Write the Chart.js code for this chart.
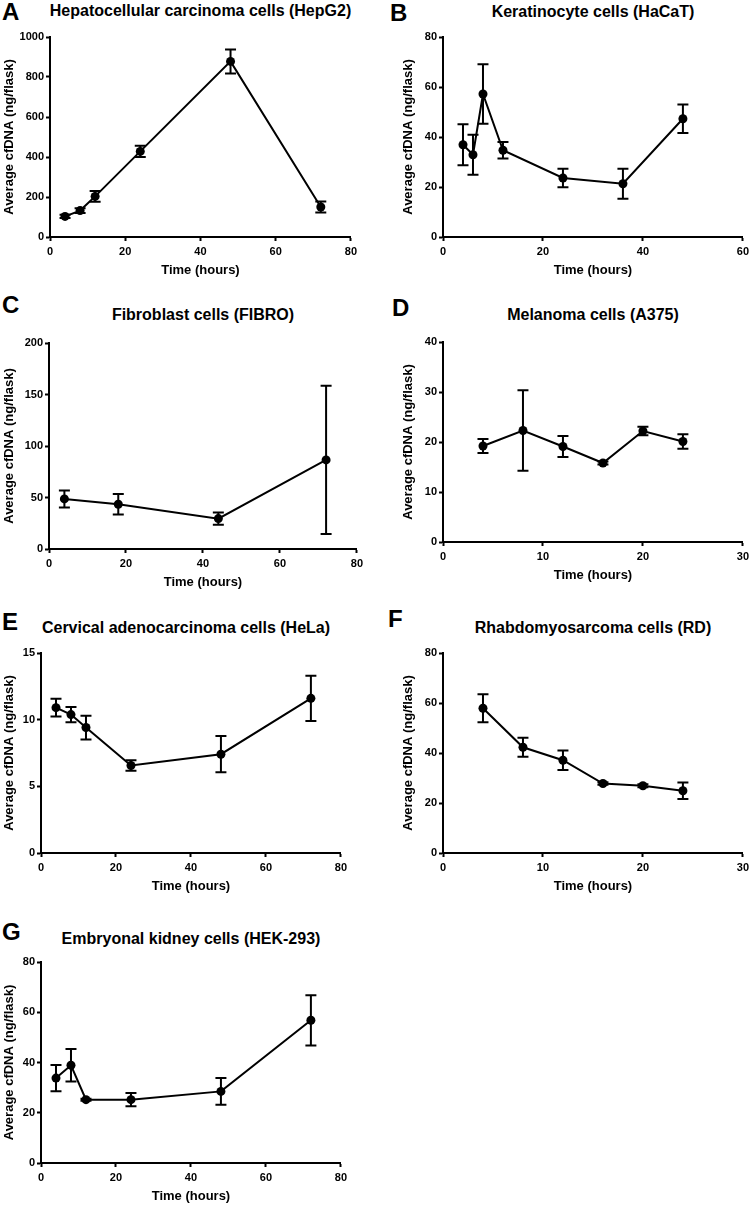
<!DOCTYPE html>
<html lang="en">
<head>
<meta charset="UTF-8">
<title>Average cfDNA over time</title>
<script src="https://cdn.jsdelivr.net/npm/chart.js@4.4.1/dist/chart.umd.min.js"></script>
<style>
    html, body { margin: 0; padding: 0; background: #fff; overflow: hidden; }
    #page {
        position: relative;
        width: 750px;
        height: 1208px;
        overflow: hidden;
        font-family: "Liberation Sans", Arial, sans-serif;
        color: #000;
    }
    .letter { position: absolute; font-weight: bold; font-size: 24px; line-height: 24px; }
    .title { position: absolute; font-weight: bold; font-size: 16px; line-height: 18px; text-align: center; white-space: nowrap; }
    canvas { position: absolute; }
</style>
</head>
<body>
<div id="page"></div>

<script>
// ---- data ----
const hepg2Hours = [4, 8, 12, 24, 48, 72];
const hepg2Mean  = [103, 132, 203, 428, 878, 150];
const hepg2Err   = [8, 12, 27, 28, 60, 28];

const hacatHours = [4, 6, 8, 12, 24, 36, 48];
const hacatMean  = [36.9, 32.9, 57.2, 34.7, 23.6, 21.3, 47.3];
const hacatErr   = [8.2, 8, 11.9, 3.3, 3.7, 6, 5.7];

const fibroHours = [4, 18, 44, 72];
const fibroMean  = [48.6, 43.4, 29.5, 86.5];
const fibroErr   = [8.3, 10, 6, 72];

const a375Hours = [4, 8, 12, 16, 20, 24];
const a375Mean  = [19.2, 22.3, 19.1, 15.8, 22.2, 20.1];
const a375Err   = [1.4, 8.05, 2.1, 0.3, 0.85, 1.45];

const helaHours = [4, 8, 12, 24, 48, 72];
const helaMean  = [10.9, 10.38, 9.41, 6.56, 7.41, 11.6];
const helaErr   = [0.66, 0.57, 0.89, 0.39, 1.36, 1.7];

const rdHours = [4, 8, 12, 16, 20, 24];
const rdMean  = [57.9, 42.3, 37.1, 27.8, 26.9, 24.9];
const rdErr   = [5.6, 3.8, 3.9, 0.5, 0.6, 3.3];

const hekHours = [4, 8, 12, 24, 48, 72];
const hekMean  = [33.8, 38.9, 25.2, 25.2, 28.5, 56.8];
const hekErr   = [5.2, 6.5, 0.4, 2.65, 5.3, 10];

const panelLetters = ['A', 'B', 'C', 'D', 'E', 'F', 'G'];
const panelTitles = [
    'Hepatocellular carcinoma cells (HepG2)',
    'Keratinocyte cells (HaCaT)',
    'Fibroblast cells (FIBRO)',
    'Melanoma cells (A375)',
    'Cervical adenocarcinoma cells (HeLa)',
    'Rhabdomyosarcoma cells (RD)',
    'Embryonal kidney cells (HEK-293)'
];
// axis ranges: [xMax, xStep, yMax, yStep]
const axisRanges = [
    [80, 20, 1000, 200],
    [60, 20, 80, 20],
    [80, 20, 200, 50],
    [30, 10, 40, 10],
    [80, 20, 15, 5],
    [30, 10, 80, 20],
    [80, 20, 80, 20]
];
const xTitle = 'Time (hours)';
const yTitle = 'Average cfDNA (ng/flask)';

const series = [
    [hepg2Hours, hepg2Mean, hepg2Err],
    [hacatHours, hacatMean, hacatErr],
    [fibroHours, fibroMean, fibroErr],
    [a375Hours, a375Mean, a375Err],
    [helaHours, helaMean, helaErr],
    [rdHours, rdMean, rdErr],
    [hekHours, hekMean, hekErr]
];

// ---- layout of each panel (plot area in page pixels) ----
const layout = [
    { L: 50,  T: 37,  R: 351, B: 237,  yw: 50, letter: [2, 0],    titleTop: 2,   titleDx: 0 },
    { L: 443, T: 37,  R: 743, B: 237,  yw: 44, letter: [390, 1],  titleTop: 3,   titleDx: 0 },
    { L: 49,  T: 343, R: 357, B: 549,  yw: 49, letter: [2, 293],  titleTop: 306, titleDx: 0 },
    { L: 443, T: 342, R: 743, B: 542,  yw: 44, letter: [392, 296],titleTop: 306, titleDx: 0 },
    { L: 41,  T: 653, R: 341, B: 853,  yw: 41, letter: [2, 610],  titleTop: 619, titleDx: -5 },
    { L: 443, T: 653, R: 743, B: 853,  yw: 44, letter: [388, 607],titleTop: 619, titleDx: 0 },
    { L: 41,  T: 962, R: 341, B: 1163, yw: 41, letter: [2, 920],  titleTop: 930, titleDx: 0 }
];

const FONT = '"Liberation Sans", Arial, sans-serif';
const PAD_TOP = 10, PAD_RIGHT = 10, X_H = 41;

// error bars drawn through the chart's own scales
const errorBars = {
    id: 'errorBars',
    afterDatasetsDraw(chart) {
        const ds = chart.data.datasets[0];
        const xs = chart.scales.x, ys = chart.scales.y;
        const ctx = chart.ctx;
        ctx.save();
        ctx.strokeStyle = '#000';
        ctx.lineWidth = 2;
        ds.data.forEach((p, i) => {
            const e = ds.errors[i];
            const x = xs.getPixelForValue(p.x);
            const yTop = ys.getPixelForValue(p.y + e);
            const yBot = ys.getPixelForValue(p.y - e);
            ctx.beginPath();
            ctx.moveTo(x, yBot); ctx.lineTo(x, yTop);
            ctx.moveTo(x - 5.5, yTop); ctx.lineTo(x + 5.5, yTop);
            ctx.moveTo(x - 5.5, yBot); ctx.lineTo(x + 5.5, yBot);
            ctx.stroke();
        });
        ctx.restore();
    }
};

function makeAxis(max, step, title, fit, tickPad) {
    return {
        type: 'linear',
        min: 0,
        max: max,
        ticks: {
            stepSize: step,
            color: '#000',
            font: { family: FONT, size: 11, weight: 'bold' },
            padding: tickPad,
            maxRotation: 0,
            autoSkip: false,
            callback: v => String(v)
        },
        grid: { drawOnChartArea: false, drawTicks: true, tickLength: 4, tickWidth: 2, tickColor: '#000' },
        border: { display: true, color: '#000', width: 2 },
        title: {
            display: true,
            text: title,
            color: '#000',
            font: { family: FONT, size: 13, weight: 'bold' },
            padding: { top: 2, bottom: 0 }
        },
        afterFit: fit
    };
}

const page = document.getElementById('page');

layout.forEach((lay, i) => {
    const [hours, mean, err] = series[i];
    const [xMax, xStep, yMax, yStep] = axisRanges[i];

    const letter = document.createElement('div');
    letter.className = 'letter';
    letter.style.left = lay.letter[0] + 'px';
    letter.style.top = lay.letter[1] + 'px';
    letter.textContent = panelLetters[i];
    page.appendChild(letter);

    const title = document.createElement('div');
    title.className = 'title';
    title.style.left = (lay.L + lay.titleDx - 40) + 'px';
    title.style.width = (lay.R - lay.L + 80) + 'px';
    title.style.top = lay.titleTop + 'px';
    title.textContent = panelTitles[i];
    page.appendChild(title);

    const canvas = document.createElement('canvas');
    const w = (lay.R - lay.L) + lay.yw + PAD_RIGHT;
    const h = (lay.B - lay.T) + PAD_TOP + X_H;
    canvas.width = w;
    canvas.height = h;
    canvas.style.width = w + 'px';
    canvas.style.height = h + 'px';
    canvas.style.left = (lay.L - lay.yw) + 'px';
    canvas.style.top = (lay.T - PAD_TOP) + 'px';
    page.appendChild(canvas);

    new Chart(canvas.getContext('2d'), {
        type: 'line',
        data: {
            datasets: [{
                data: hours.map((hr, k) => ({ x: hr, y: mean[k] })),
                errors: err,
                borderColor: '#000',
                borderWidth: 2,
                backgroundColor: '#000',
                pointBackgroundColor: '#000',
                pointBorderWidth: 0,
                pointRadius: 4.5,
                tension: 0,
                fill: false
            }]
        },
        options: {
            responsive: false,
            animation: false,
            devicePixelRatio: 1,
            layout: { padding: { top: PAD_TOP, right: PAD_RIGHT, left: 0, bottom: 0 } },
            plugins: { legend: { display: false }, tooltip: { enabled: false } },
            scales: {
                x: makeAxis(xMax, xStep, xTitle, s => { s.height = X_H; }, 4),
                y: makeAxis(yMax, yStep, yTitle, s => { s.width = lay.yw; }, 2)
            }
        },
        plugins: [errorBars]
    });
});
</script>
</body>
</html>
